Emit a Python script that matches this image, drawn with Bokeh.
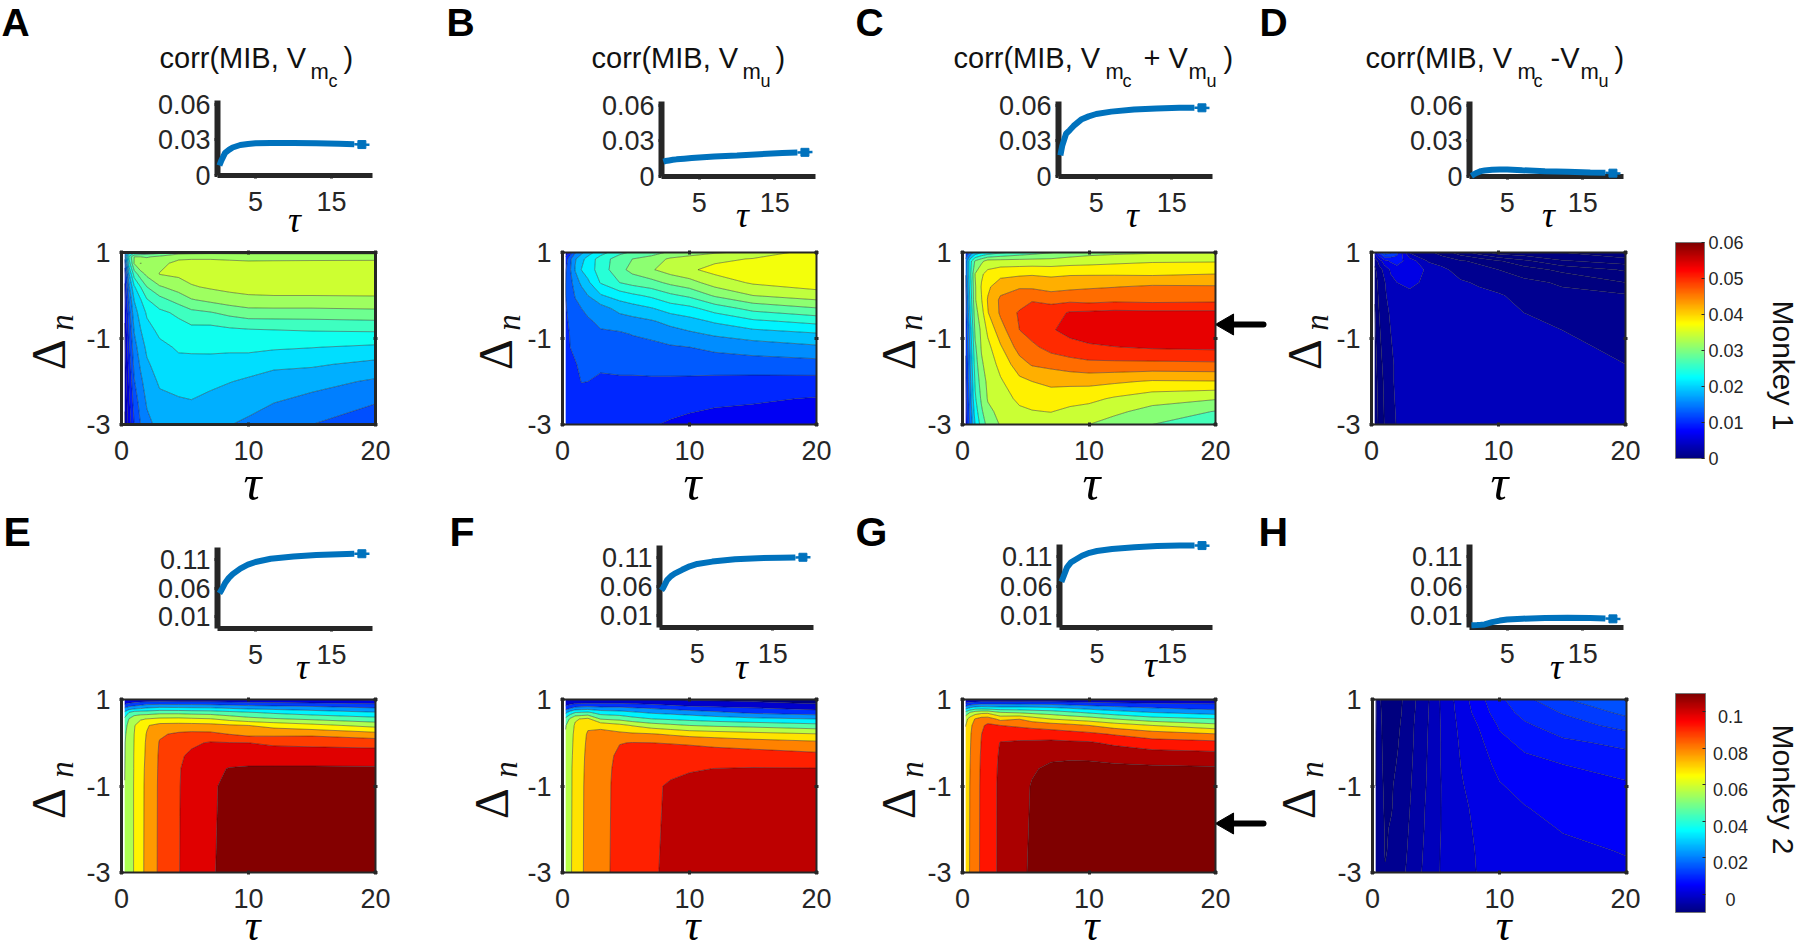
import numpy as np
from bokeh.embed import file_html
from bokeh.resources import INLINE
from bokeh.plotting import figure
from bokeh.layouts import row, column
from bokeh.models import Range1d, Label, LinearAxis, FixedTicker, LinearColorMapper

# ---------------- data ----------------
TAU = [0.25, 0.6, 1, 2, 3, 4.5, 7, 10, 15, 20]
TAU_EXTRA = [1.5, 5.5, 8.5, 12]

DN_A = [1, .9, .75, .5, .2, -.1, -.4, -.8, -1.2, -1.6, -2, -2.5, -3]
Z_A = [
 [.016, .016, .0135, .0105, .009, .008, .0072, .0062, .0056, .005, .0045, .004, .0035],
 [.022, .027, .025, .0205, .0175, .0155, .014, .0128, .0118, .0108, .0098, .0088, .0078],
 [.025, .0318, .0320, .0275, .023, .0207, .0195, .018, .0168, .0158, .0148, .0134, .0122],
 [.027, .0315, .0338, .0325, .029, .026, .0238, .0225, .0212, .0202, .0191, .0181, .017],
 [.028, .0325, .034, .0347, .0315, .028, .0255, .024, .0228, .0218, .021, .0198, .0187],
 [.0305, .034, .0352, .0352, .033, .0302, .0268, .025, .0237, .0228, .0218, .0201, .0183],
 [.031, .034, .0355, .0363, .035, .0325, .0288, .0252, .024, .0225, .0212, .0198, .0185],
 [.031, .0335, .0352, .0365, .0358, .0338, .0306, .026, .0242, .0218, .0202, .0188, .0172],
 [.031, .0335, .0354, .0364, .0358, .034, .0306, .0264, .0235, .021, .0188, .0168, .015],
 [.031, .0335, .0355, .0362, .0358, .0341, .0309, .0266, .0229, .0198, .0174, .0151, .0125],
]
Z_A_X = [
 [.0262, .0318, .0347, .0305, .0262, .0232, .0216, .0205, .0192, .0182, .0172, .016, .015],
 [.0308, .034, .0355, .0358, .0343, .0316, .0282, .0254, .0239, .0226, .0217, .0204, .0188],
 [.031, .0337, .0354, .0364, .0355, .0333, .0298, .0257, .0241, .022, .0207, .0192, .0179],
 [.031, .0335, .0353, .0365, .0358, .034, .0306, .0262, .0238, .0213, .0192, .0178, .016],
]
LEVELS_A = [.001, .0038, .0066, .0094, .0122, .015, .0178, .0206, .0234, .0262, .029, .0318, .0346, .0374]

DN_B = [1, .85, .6, .3, 0, -.3, -.6, -.9, -1.2, -1.6, -2, -2.4, -3]
Z_B = [
 [.0075, .011, .0125, .0128, .0128, .0126, .0124, .0122, .012, .0116, .0112, .0107, .0099],
 [.011, .015, .0155, .0148, .0142, .0136, .0132, .0129, .0128, .0122, .0115, .011, .0101],
 [.0155, .0185, .019, .0172, .016, .015, .0142, .0136, .0131, .0127, .0119, .0112, .0103],
 [.0205, .0228, .0232, .0212, .0188, .0168, .0153, .0146, .0137, .013, .0128, .0112, .0103],
 [.0235, .0262, .0262, .025, .0215, .0176, .0165, .0153, .0138, .0131, .0125, .0112, .0104],
 [.027, .0293, .0298, .0278, .0232, .0198, .0173, .0154, .0146, .0135, .0124, .0113, .0105],
 [.029, .0325, .0335, .0298, .0254, .0216, .0185, .0164, .0151, .0137, .0124, .0113, .01],
 [.0325, .035, .0363, .0327, .0284, .024, .0207, .0182, .0158, .0141, .0122, .0107, .0091],
 [.0345, .037, .0385, .0372, .0338, .0288, .0242, .0203, .0173, .0143, .0119, .0102, .0083],
 [.0385, .0395, .0400, .0385, .0354, .0306, .0257, .0214, .0183, .0146, .0118, .0096, .0078],
]
Z_B_X = [
 [.018, .021, .0219, .0195, .0172, .0158, .0146, .014, .0134, .0131, .0129, .0116, .0103],
 [.0283, .0308, .0318, .0288, .0242, .0205, .0178, .0159, .0148, .0135, .0124, .0113, .0103],
 [.0316, .0342, .0352, .0315, .0272, .0232, .0197, .0174, .0155, .0139, .0123, .011, .0095],
 [.0335, .036, .0378, .0352, .0312, .0262, .0222, .0192, .0165, .0142, .012, .0104, .0087],
]
LEVELS_B = [.0038, .0068, .0098, .0128, .0158, .0188, .0218, .0248, .0278, .0308, .0338, .0368, .0410]

DN_C = [1, .8, .5, .2, -.1, -.4, -.8, -1.2, -1.6, -2, -2.4, -2.7, -3]
Z_C = [
 [.012, .016, .015, .014, .013, .0125, .0118, .0112, .0108, .0103, .0098, .0094, .009],
 [.016, .025, .0255, .0245, .0235, .0225, .0205, .0195, .0185, .0178, .017, .0162, .0155],
 [.020, .031, .0345, .034, .034, .0328, .0315, .0298, .0285, .0272, .026, .0245, .0228],
 [.024, .036, .0395, .0415, .0425, .042, .0392, .0372, .036, .0352, .0347, .0335, .0318],
 [.026, .036, .041, .0446, .0468, .0467, .0445, .0417, .0395, .0378, .0364, .0354, .0347],
 [.028, .036, .0415, .0458, .048, .0505, .050, .0478, .0444, .0412, .0392, .0375, .036],
 [.0303, .036, .0415, .0445, .0488, .0522, .0535, .0515, .0472, .0432, .0402, .0384, .0365],
 [.033, .0368, .0418, .0457, .0485, .0546, .0565, .0532, .049, .0433, .0393, .0367, .0344],
 [.034, .0379, .0416, .0467, .0487, .0548, .0567, .0544, .049, .0418, .036, .033, .0305],
 [.0342, .038, .0422, .0465, .049, .0548, .0562, .0548, .0492, .042, .0347, .0303, .0275],
]
Z_C_X = [
 [.0225, .0335, .0378, .0386, .0381, .0368, .0352, .0348, .0338, .0325, .0312, .0298, .0282],
 [.029, .036, .0418, .0455, .0497, .0518, .0518, .0491, .0465, .0422, .0398, .0381, .0365],
 [.032, .0365, .0418, .0452, .049, .0543, .0552, .0525, .0483, .0432, .0397, .0374, .0353],
 [.0335, .0373, .0418, .046, .049, .055, .0568, .0538, .049, .0428, .0378, .0352, .0328],
]
LEVELS_C = [.0032, .0071, .011, .0149, .0188, .0227, .0266, .0305, .0344, .0383, .0422, .0461, .05, .0539, .0578]

DN_D = [1, .8, .6, .3, 0, -.4, -.8, -1.2, -1.6, -2, -3]
Z_D = [
 [.0045, .003, .0025, .0022, .002, .0018, .0017, .0016, .0015, .0014, .0013],
 [.006, .0038, .0032, .003, .0029, .0027, .0026, .0025, .0024, .0023, .0021],
 [.0072, .0048, .0037, .0034, .0033, .0032, .0031, .003, .0029, .0028, .0027],
 [.0062, .0054, .0048, .0043, .0041, .0039, .0038, .0038, .0037, .0037, .00355],
 [.0034, .0048, .0046, .0044, .0042, .004, .004, .0039, .0039, .0039, .0039],
 [.0029, .0034, .0042, .0042, .004, .004, .004, .004, .004, .004, .004],
 [.0015, .0028, .0032, .0036, .0038, .0039, .004, .004, .0041, .0041, .0041],
 [-.0001, .002, .0027, .0031, .0036, .0038, .0039, .004, .0041, .0041, .0041],
 [-.0005, .0004, .0017, .0026, .0029, .0032, .0035, .0037, .0038, .0039, .0041],
 [-.0012, -.0001, .001, .0019, .0028, .0029, .0031, .0033, .0035, .0036, .0039],
]
Z_D_X = [
 [.0068, .0052, .0044, .0041, .0039, .0036, .0035, .0034, .0033, .0033, .0032],
 [.0024, .0032, .0037, .0038, .0039, .004, .004, .004, .004, .004, .004],
 [.0007, .0025, .003, .0034, .0037, .0039, .004, .004, .0041, .0041, .0041],
 [-.0003, .0013, .0023, .0029, .0032, .0035, .0037, .0039, .004, .004, .0041],
]
LEVELS_D = [-.0021, -.0013, -.0005, .0003, .0011, .0019, .0027, .0035, .0043, .0051, .0059, .0067, .0075]
BAND_VALUES_D = [-.014, -.0115, -.009, -.0065, -.004, -.0015, .001, .0035, .006, .0085, .011, .0135]

DN_EFG = [1, .9, .8, .7, .55, .4, .2, 0, -.3, -.6, -1, -3]
Z_E = [
 [.001, .011, .024, .036, .047, .052, .054, .0548, .055, .0552, .0555, .0556],
 [.002, .014, .028, .045, .056, .0585, .0595, .06, .0602, .0605, .0605, .0605],
 [.003, .0165, .030, .0495, .0615, .0655, .0662, .0665, .0668, .0668, .067, .067],
 [.004, .0205, .0345, .050, .0665, .0762, .0775, .078, .0782, .0785, .0787, .0788],
 [.004, .021, .0365, .052, .0685, .0805, .0865, .0885, .0892, .0895, .0897, .0899],
 [.004, .0205, .036, .052, .069, .081, .0895, .0955, .097, .0978, .098, .0982],
 [.004, .020, .035, .0504, .0668, .0805, .0902, .0995, .1045, .1075, .1085, .1088],
 [.0025, .0175, .031, .0455, .059, .077, .0845, .0986, .105, .1105, .1117, .1128],
 [.001, .0151, .0282, .039, .0535, .0695, .0855, .0955, .1053, .1105, .1117, .1127],
 [-.001, .0122, .0237, .0346, .0485, .0625, .081, .0943, .1048, .1104, .1115, .1125],
]
Z_E_X = [
 [.0035, .0185, .032, .05, .065, .0715, .0735, .074, .0745, .0748, .075, .0752],
 [.004, .0205, .0355, .051, .068, .081, .0905, .0968, .1005, .1025, .103, .1035],
 [.003, .0185, .033, .048, .0625, .0785, .0875, .0988, .1055, .1098, .1108, .111],
 [.002, .0165, .030, .0425, .0565, .0735, .085, .0965, .1052, .1105, .1117, .1128],
]
LEVELS_E = [-.0094, .0014, .0122, .023, .0338, .0446, .0554, .0662, .077, .0878, .0986, .1094, .1202]

Z_F = [
 [-.001, .006, .017, .031, .049, .056, .0575, .0585, .059, .0595, .0598, .06],
 [0, .009, .021, .039, .0585, .063, .0645, .065, .0655, .066, .066, .0665],
 [.001, .011, .026, .045, .067, .0695, .0705, .071, .0715, .072, .0722, .0725],
 [.001, .012, .028, .047, .0705, .0785, .0805, .081, .0815, .0818, .082, .0822],
 [.001, .012, .026, .040, .056, .0765, .0835, .085, .086, .0865, .0868, .087],
 [.001, .012, .0252, .0382, .0535, .0715, .0825, .0908, .0935, .0945, .095, .0955],
 [0, .0095, .0212, .032, .0455, .0625, .0805, .0912, .0985, .1005, .1015, .102],
 [-.002, .0044, .0158, .028, .0418, .0567, .0757, .0895, .0985, .102, .105, .105],
 [-.003, .0015, .0115, .0197, .0367, .053, .072, .085, .0975, .1032, .1055, .1065],
 [-.006, -.0008, .0073, .0158, .0337, .0491, .0688, .0822, .0945, .1031, .1055, .1065],
]
Z_F_X = [
 [.001, .0115, .027, .046, .0688, .0755, .077, .0775, .078, .0782, .0785, .0787],
 [.0005, .011, .0235, .0355, .0495, .0675, .0815, .0915, .0955, .097, .0978, .0985],
 [-.0005, .0072, .0185, .0302, .0437, .0595, .0782, .0905, .0985, .1012, .1035, .1038],
 [-.0025, .003, .014, .0245, .0395, .0548, .0742, .0875, .098, .1028, .1052, .1062],
]
LEVELS_F = [-.0123, -.0008, .0107, .0222, .0337, .0452, .0567, .0682, .0797, .0912, .1027, .1142]

Z_G = [
 [-.001, .013, .03, .05, .065, .069, .0705, .071, .072, .0725, .0728, .073],
 [0, .017, .036, .058, .0745, .078, .0795, .08, .0805, .081, .0815, .082],
 [0, .019, .04, .0635, .0815, .086, .0875, .088, .0885, .0885, .089, .089],
 [0, .021, .04, .0665, .0865, .095, .0975, .098, .0985, .099, .099, .0992],
 [0, .021, .039, .058, .0775, .0926, .1005, .1055, .1065, .107, .1075, .1075],
 [0, .0215, .039, .056, .0805, .0905, .1005, .1065, .1115, .1135, .1145, .1155],
 [0, .02, .0365, .052, .069, .087, .0985, .108, .1155, .1185, .119, .1195],
 [0, .0165, .0305, .0441, .0632, .0809, .0955, .1065, .116, .1185, .1195, .12],
 [-.002, .0125, .0232, .0341, .0507, .0692, .0866, .0975, .1115, .119, .1205, .1205],
 [-.006, .0107, .0187, .0288, .0462, .0614, .0815, .0958, .1095, .1185, .12, .1205],
]
Z_G_X = [
 [0, .021, .041, .066, .086, .0905, .0925, .093, .0935, .0938, .094, .0942],
 [0, .0205, .038, .054, .075, .089, .0995, .107, .1135, .1162, .1175, .118],
 [0, .018, .0335, .048, .066, .0845, .097, .107, .1158, .119, .1195, .12],
 [-.001, .0148, .027, .0395, .0575, .0755, .0915, .1025, .114, .119, .12, .1205],
]
LEVELS_G = [-.0127, -.001, .0107, .0224, .0341, .0458, .0575, .0692, .0809, .0926, .105, .117, .129]

DN_H = [1, .7, .4, 0, -.5, -1, -1.5, -2, -2.5, -3]
Z_H = [
 [-.0052, -.0052, -.0053, -.0054, -.0054, -.0055, -.0055, -.0056, -.0056, -.0057],
 [-.0078, -.0076, -.0074, -.0073, -.0072, -.0071, -.007, -.0069, -.0068, -.0067],
 [-.0095, -.0094, -.0092, -.0091, -.0089, -.0086, -.0084, -.0082, -.0082, -.0078],
 [-.0088, -.0087, -.0084, -.0081, -.0078, -.0074, -.0072, -.007, -.0068, -.0065],
 [-.0065, -.0063, -.0061, -.006, -.0058, -.0056, -.0054, -.0052, -.005, -.0048],
 [-.0029, -.0028, -.0027, -.0026, -.0025, -.0024, -.0022, -.0021, -.0019, -.0017],
 [.0033, .003, .0027, .0024, .0021, .0018, .0014, .0011, .0008, .0006],
 [.009, .0083, .0073, .0063, .0052, .0043, .0037, .0033, .003, .0028],
 [.0143, .0122, .0108, .009, .007, .0061, .0053, .0046, .0041, .0037],
 [.0165, .0152, .0129, .0101, .0082, .0066, .0059, .0052, .0046, .0042],
]
Z_H_X = [
 [-.0093, -.0093, -.0091, -.0088, -.0085, -.0082, -.0081, -.0078, -.0075, -.0072],
 [.0001, 0, -.0001, -.0002, -.0002, -.0003, -.0003, -.0003, -.0002, -.0002],
 [.0064, .0058, .0048, .0041, .0035, .0032, .0029, .0027, .0025, .0024],
 [.0113, .0103, .0091, .0076, .0063, .0053, .0044, .0039, .0035, .0033],
]
LEVELS_H = [-.0105, -.008, -.0055, -.003, -.0005, .002, .0045, .007, .0095, .012, .0145, .017]

TAU_INSET = [.25, .5, 1, 1.5, 2, 3, 4, 5, 7, 10, 13, 16, 18, 19, 20]
CURVE_A = [.0084, .0125, .019, .0215, .0235, .0256, .0265, .027, .0272, .0272, .027, .0266, .0263, .026, .0258]
CURVE_B = [.0125, .013, .0135, .014, .0144, .015, .0155, .016, .0168, .0176, .0187, .0197, .0201, .0203, .0205]
CURVE_C = [.0177, .026, .0359, .039, .0425, .0478, .0505, .0525, .0545, .0562, .0572, .0578, .0578, .0577, .0575]
CURVE_D = [.0005, .0015, .0032, .0045, .005, .0056, .0059, .0059, .0052, .0045, .004, .0034, .0031, .0028, .0025]
CURVE_E = [.0507, .056, .0685, .0775, .084, .0935, .1005, .105, .1105, .1145, .1172, .1185, .119, .1192, .1193]
CURVE_F = [.0534, .058, .071, .0775, .082, .0885, .0945, .0985, .1025, .1065, .1083, .1092, .1097, .1099, .11]
CURVE_G = [.067, .075, .0915, .0995, .1035, .111, .116, .119, .1225, .1255, .1275, .1282, .1283, .1282, .128]
CURVE_H = [-.0062, -.0061, -.0058, -.0054, -.0048, -.001, .0017, .0034, .0048, .006, .0065, .0062, .0052, .0046, .0042]

TICKS_Y1 = [0, .03, .06]
LABELS_Y1 = ["0", "0.03", "0.06"]
TICKS_Y2 = [.01, .06, .11]
LABELS_Y2 = ["0.01", "0.06", "0.11"]
CB1_TICKS = [0, .01, .02, .03, .04, .05, .06]
CB1_LABELS = ["0", "0.01", "0.02", "0.03", "0.04", "0.05", "0.06"]
CB2_TICKS = [0, .02, .04, .06, .08, .1]
CB2_LABELS = ["0", "0.02", "0.04", "0.06", "0.08", "0.1"]

# ---------------- helpers ----------------
SANS = "Liberation Sans"
SERIF = "Liberation Serif"
INK = "#262626"
BLUE = "#0072BD"
FRAMES = {}
BASELINE_FIX = 0.36   # labels sit this fraction of their size below the asked baseline in the svg output


def jet(v):
    v = min(max(v, 0.0), 1.0)
    r = np.clip(min(4 * v - 1.5, -4 * v + 4.5), 0, 1)
    g = np.clip(min(4 * v - 0.5, -4 * v + 3.5), 0, 1)
    b = np.clip(min(4 * v + 0.5, -4 * v + 2.5), 0, 1)
    return "#%02x%02x%02x" % (int(r * 255), int(g * 255), int(b * 255))


def merged(z, extra):
    order = np.argsort(TAU + TAU_EXTRA)
    return np.array(TAU + TAU_EXTRA, dtype=float)[order], np.array(z + extra, dtype=float)[order]


def new_fig(band, frame, xr, yr, **kw):
    """The plot frame fills the whole band; the visible panel is drawn by axes at fixed locations."""
    bl, bt, br, bb = band
    L, T, R, B = frame
    sx = (xr[1] - xr[0]) / (R - L)
    sy = (yr[1] - yr[0]) / (B - T)
    fx = (xr[0] - (L - bl) * sx, xr[1] + (br - R) * sx)
    fy = (yr[0] - (bb - B) * sy, yr[1] + (T - bt) * sy)
    p = figure(width=br - bl, height=bb - bt, toolbar_location=None, output_backend="svg",
               x_range=Range1d(*fx), y_range=Range1d(*fy), min_border=0, **kw)
    p.grid.visible = False
    p.outline_line_color = None
    p.background_fill_color = None
    p.border_fill_color = None
    FRAMES[id(p)] = (band, fx, fy)
    return p


def to_data(p, px, py):
    (L, T, R, B), xr, yr = FRAMES[id(p)]
    return (xr[0] + (px - L) / (R - L) * (xr[1] - xr[0]),
            yr[1] - (py - T) / (B - T) * (yr[1] - yr[0]))


def text(p, px, py, s, size, font=SANS, style="normal", align="left", angle=0, color="black"):
    d = BASELINE_FIX * size
    x, y = to_data(p, px - np.sin(angle) * d, py - np.cos(angle) * d)
    p.add_layout(Label(x=x, y=y, text=s, text_font=font, text_font_size=f"{size}px",
                       text_font_style=style, text_align=align, text_baseline="alphabetic",
                       angle=angle, text_color=color))


def style_axis(ax, ticks, labels, width, loc, bounds, size=27, standoff=5, tin=2, tout=2):
    ax.fixed_location = loc
    ax.bounds = bounds
    ax.ticker = FixedTicker(ticks=list(ticks))
    ax.major_label_overrides = dict(zip(ticks, labels))
    ax.minor_tick_line_color = None
    ax.axis_line_color = INK
    ax.axis_line_width = width
    ax.major_tick_line_color = INK
    ax.major_tick_line_width = 3
    ax.major_tick_in = tin
    ax.major_tick_out = tout
    ax.major_label_text_font = SANS
    ax.major_label_text_font_size = f"{size}px"
    ax.major_label_text_color = INK
    ax.major_label_standoff = standoff


def heat(band, frame, dn, z, extra, levels, lo, hi, lw_left=3, lw_other=2, band_values=None, **kw):
    p = new_fig(band, frame, (0, 20), (-3, 1), **kw)
    taus, zc = merged(z, extra)
    zz = zc.T[::-1, :]
    yy = np.array(dn, dtype=float)[::-1]
    values = band_values if band_values is not None else levels[:-1]
    cols = [jet((l - lo) / (hi - lo)) for l in values]
    p.contour(taus, yy, zz, list(levels), fill_color=cols,
              line_color="#14141e", line_width=0.6, line_alpha=0.7)
    xt, xl = [0, 10, 20], ["0", "10", "20"]
    yt, yl = [-3, -1, 1], ["-3", "-1", "1"]
    style_axis(p.xaxis[0], xt, xl, lw_other, -3, (0, 20), standoff=14)
    style_axis(p.yaxis[0], yt, yl, lw_left, 0, (-3, 1), standoff=9)
    top = LinearAxis()
    style_axis(top, xt, ["", "", ""], lw_other, 1, (0, 20), size=1, standoff=0)
    p.add_layout(top, "above")
    right = LinearAxis()
    style_axis(right, yt, ["", "", ""], lw_other, 20, (-3, 1), size=1, standoff=0)
    p.add_layout(right, "right")
    return p


def inset(band, frame, curve, yr, yt, yl):
    p = new_fig(band, frame, (0, 20.4), yr)
    n = 13
    style_axis(p.xaxis[0], [5, 15], ["5", "15"], 5, yr[0], (0, 20.4), standoff=13, tin=0, tout=3)
    style_axis(p.yaxis[0], yt, yl, 6, 0, yr, standoff=4, tin=0, tout=3)
    p.line(TAU_INSET[:n], curve[:n], line_color=BLUE, line_width=6, level="annotation")
    p.line(TAU_INSET[n - 1:], curve[n - 1:], line_color=BLUE, line_width=2.5, level="annotation")
    p.scatter(TAU_INSET[n:n + 1], curve[n:n + 1], marker="square", size=8, color=BLUE, level="annotation")
    return p


def tau_label(p, px, py, size):
    text(p, px, py, "\u03c4", size, font=SERIF, style="italic", align="center", color="black")


def delta_n(p, base_d, base_n, y_d, y_n):
    text(p, base_d, y_d, "\u0394", 48, font=SERIF, align="center", angle=np.pi / 2, color="#111111")
    text(p, base_n, y_n, "n", 33, font=SERIF, style="italic", align="center", angle=np.pi / 2, color="#111111")


def title(p, parts):
    for s, x, y, size in parts:
        text(p, x, y, s, size, color="#111111")


def arrow(p, tail_x, tip_x, py):
    x0, y0 = to_data(p, tail_x, py)
    x1, y1 = to_data(p, tip_x + 14, py)
    xh, yh = to_data(p, tip_x + 10, py)
    p.segment([x0], [y0], [x1], [y1], line_color="black", line_width=6, line_cap="round")
    p.scatter([xh], [yh], marker="triangle", size=21, angle=np.pi / 2, color="black")


def colorbar(band, frame, lo, hi, ticks, labels, centered=False, **kw):
    p = new_fig(band, frame, (0, 1), (lo, hi), **kw)
    mapper = LinearColorMapper(palette=[jet(i / 255) for i in range(256)], low=lo, high=hi)
    ramp = np.linspace(lo, hi, 256).reshape(-1, 1)
    p.image(image=[ramp], x=0, y=lo, dw=1, dh=hi - lo, color_mapper=mapper)
    p.xaxis.visible = False
    p.yaxis.visible = False
    ax = LinearAxis()
    shown = ["" for _ in labels] if centered else labels
    style_axis(ax, ticks, shown, 1, 1, (lo, hi), size=18, standoff=4, tin=3, tout=0)
    ax.axis_line_color = "#777777"
    ax.major_tick_line_width = 1
    p.add_layout(ax, "right")
    if centered:
        L, T, R, B = frame
        for t, s in zip(ticks, labels):
            tick_px = T + (hi - t) / (hi - lo) * (B - T)
            text(p, L + 55, tick_px + 11.5, s, 18, align="center", color=INK)
    for loc, bounds, kind in ((0, (lo, hi), "y"), (lo, (0, 1), "x"), (hi, (0, 1), "x")):
        b = LinearAxis(fixed_location=loc, bounds=bounds, ticker=FixedTicker(ticks=[]),
                       axis_line_color="#777777", axis_line_width=1,
                       major_tick_line_color=None, minor_tick_line_color=None)
        p.add_layout(b, "left" if kind == "y" else "below")
    return p


# ---------------- layout bands (page pixels); neighbouring bands overlap a little ----------------
R1 = (0, 245)
R2 = (235, 515)
R3 = (505, 690)
R4 = (682, 950)
CB_COL = (1640, 1800)

Y1 = (0, .063)
Y2 = (-.01, .13)

# ---------------- top row ----------------
iA = inset((0, R1[0], 440, R1[1]), (217, 100, 372, 175), CURVE_A, Y1, TICKS_Y1, LABELS_Y1)
iB = inset((440, R1[0], 850, R1[1]), (661, 101, 815, 176), CURVE_B, Y1, TICKS_Y1, LABELS_Y1)
iC = inset((850, R1[0], 1250, R1[1]), (1058, 101, 1212, 176), CURVE_C, Y1, TICKS_Y1, LABELS_Y1)
iD = inset((1250, R1[0], 1800, R1[1]), (1469, 101, 1623, 176), CURVE_D, Y1, TICKS_Y1, LABELS_Y1)

text(iA, 1, 36, "A", 39, style="bold")
text(iB, 446, 36, "B", 39, style="bold")
text(iC, 855, 36, "C", 39, style="bold")
text(iD, 1259, 36, "D", 39, style="bold")

BASE = 68
title(iA, [("corr(MIB, V", 159, BASE, 29), ("m", 310, 79, 22), ("c", 328, 87, 18), (")", 343, BASE, 29)])
title(iB, [("corr(MIB, V", 591, BASE, 29), ("m", 742, 79, 22), ("u", 760, 87, 18), (")", 775, BASE, 29)])
title(iC, [("corr(MIB, V", 953, BASE, 29), ("m", 1105, 79, 22), ("c", 1122, 87, 18), ("+ V", 1143, BASE, 29),
           ("m", 1188, 79, 22), ("u", 1206, 87, 18), (")", 1223, BASE, 29)])
title(iD, [("corr(MIB, V", 1365, BASE, 29), ("m", 1517, 79, 22), ("c", 1533, 87, 18), ("-V", 1550, BASE, 29),
           ("m", 1580, 79, 22), ("u", 1598, 87, 18), (")", 1614, BASE, 29)])

tau_label(iA, 294, 232, 36)
tau_label(iB, 742, 227, 36)
tau_label(iC, 1132, 227, 36)
tau_label(iD, 1548, 227, 36)

hA = heat((0, R2[0], 440, R2[1]), (121, 252, 375, 424), DN_A, Z_A, Z_A_X, LEVELS_A, 0, .06, 3, 3)
hB = heat((440, R2[0], 870, R2[1]), (562, 252, 816, 424), DN_B, Z_B, Z_B_X, LEVELS_B, 0, .06)
hC = heat((870, R2[0], 1280, R2[1]), (962, 252, 1215, 424), DN_C, Z_C, Z_C_X, LEVELS_C, 0, .06)
hD = heat((1260, R2[0], 1640, R2[1]), (1371, 252, 1625, 424), DN_D, Z_D, Z_D_X, LEVELS_D, 0, .06,
          band_values=BAND_VALUES_D, margin=(0, 0, 0, -20))
cb1 = colorbar((CB_COL[0], R2[0] - 12, CB_COL[1], R2[1]), (1675, 242, 1704, 458), 0, .06, CB1_TICKS, CB1_LABELS,
               margin=(-12, 0, 0, 0))

delta_n(hA, 65, 73, 354, 322)
delta_n(hB, 512, 520, 354, 322)
delta_n(hC, 915, 922, 354, 322)
delta_n(hD, 1321, 1328, 354, 322)
tau_label(hA, 252, 500, 50)
tau_label(hB, 692, 500, 50)
tau_label(hC, 1091, 500, 50)
tau_label(hD, 1499, 500, 50)
text(cb1, 1772, 365, "Monkey 1", 30, align="center", angle=-np.pi / 2, color="#111111")
arrow(hC, 1263, 1217, 324)

# ---------------- bottom row ----------------
iE = inset((0, R3[0], 440, R3[1]), (217, 547, 372, 628), CURVE_E, Y2, TICKS_Y2, LABELS_Y2)
iF = inset((440, R3[0], 850, R3[1]), (659, 545, 813, 627), CURVE_F, Y2, TICKS_Y2, LABELS_Y2)
iG = inset((850, R3[0], 1250, R3[1]), (1059, 544, 1212, 627), CURVE_G, Y2, TICKS_Y2, LABELS_Y2)
iH = inset((1250, R3[0], 1800, R3[1]), (1469, 544, 1623, 627), CURVE_H, Y2, TICKS_Y2, LABELS_Y2)

text(iE, 3, 546, "E", 41, style="bold")
text(iF, 449, 546, "F", 41, style="bold")
text(iG, 855, 546, "G", 41, style="bold")
text(iH, 1258, 546, "H", 41, style="bold")

tau_label(iE, 302, 679, 36)
tau_label(iF, 741, 679, 36)
tau_label(iG, 1150, 677, 36)
tau_label(iH, 1556, 679, 36)

hE = heat((0, R4[0], 440, R4[1]), (121, 699, 375, 872), DN_EFG, Z_E, Z_E_X, LEVELS_E, -.01, .11)
hF = heat((440, R4[0], 870, R4[1]), (562, 699, 816, 872), DN_EFG, Z_F, Z_F_X, LEVELS_F, -.01, .11)
hG = heat((870, R4[0], 1280, R4[1]), (962, 699, 1215, 872), DN_EFG, Z_G, Z_G_X, LEVELS_G, -.01, .11)
hH = heat((1260, R4[0], 1640, R4[1]), (1372, 699, 1626, 872), DN_H, Z_H, Z_H_X, LEVELS_H, -.01, .11,
          margin=(0, 0, 0, -20))
cb2 = colorbar((CB_COL[0], R4[0], CB_COL[1], R4[1]), (1675, 693, 1705, 912), -.01, .11, CB2_TICKS, CB2_LABELS, True)

delta_n(hE, 65, 73, 803, 769)
delta_n(hF, 508, 517, 803, 769)
delta_n(hG, 915, 923, 803, 769)
delta_n(hH, 1315, 1323, 803, 769)
tau_label(hE, 252, 941, 44)
tau_label(hF, 692, 941, 44)
tau_label(hG, 1091, 941, 44)
tau_label(hH, 1503, 941, 44)
text(cb2, 1772, 789, "Monkey 2", 30, align="center", angle=-np.pi / 2, color="#111111")
arrow(hG, 1263, 1217, 823)

page = column(
    row(iA, iB, iC, iD, spacing=0),
    row(hA, hB, hC, hD, cb1, spacing=0, margin=(R2[0] - R1[1], 0, 0, 0)),
    row(iE, iF, iG, iH, spacing=0, margin=(R3[0] - R2[1], 0, 0, 0)),
    row(hE, hF, hG, hH, cb2, spacing=0, margin=(R4[0] - R3[1], 0, 0, 0)),
    spacing=0,
)

open("out.html", "w").write(file_html(page, INLINE))
